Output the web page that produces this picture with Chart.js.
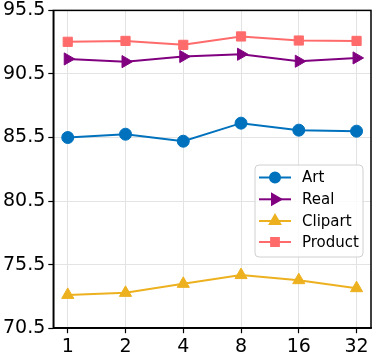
<!DOCTYPE html>
<html>
<head>
<meta charset="utf-8">
<script src="https://cdn.jsdelivr.net/npm/chart.js@4/dist/chart.umd.min.js"></script>
<style>
html,body{margin:0;padding:0;background:#fff;overflow:hidden;}
#wrap{width:374px;height:355px;position:relative;overflow:hidden;}
#c{position:absolute;left:0;top:-4px;}
</style>
</head>
<body>
<div id="wrap"><canvas id="c" width="379" height="359"></canvas></div>
<script>
const categories = ["1", "2", "4", "8", "16", "32"];
const artValues = [85.50, 85.76, 85.21, 86.63, 86.08, 86.00];
const realValues = [91.68, 91.47, 91.87, 92.05, 91.50, 91.76];
const clipartValues = [73.12, 73.28, 73.99, 74.68, 74.28, 73.65];
const productValues = [93.03, 93.10, 92.79, 93.45, 93.13, 93.10];
const yTicks = [70.5, 75.5, 80.5, 85.5, 90.5, 95.5];
const seriesNames = ["Art", "Real", "Clipart", "Product"];

const FONT = "'DejaVu Sans', sans-serif";
function pts(vals){ return vals.map((v,i)=>({x:i,y:v})); }

const styles = [
  {color:'#0072BD', style:'circle', rot:0, r:6, lr:5},
  {color:'#800080', style:'triangle', rot:90, r:7, lr:6},
  {color:'#EDB120', style:'triangle', rot:0, r:7, lr:6},
  {color:'#FF6B6B', style:'rect', rot:0, r:6.5, lr:5.5}
];
const allVals = [artValues, realValues, clipartValues, productValues];

const datasets = allVals.map((vals,k)=>({
  label: seriesNames[k],
  data: pts(vals),
  borderColor: styles[k].color,
  backgroundColor: styles[k].color,
  borderWidth: 2,
  pointStyle: styles[k].style,
  pointRotation: styles[k].rot,
  pointRadius: styles[k].r,
  pointBorderWidth: 1,
  pointHoverRadius: styles[k].r,
  tension: 0
}));

// page offset of canvas (top:-4px): legend coords given in page pixels
const OY = 4;
const frame = {
  id:'frame',
  afterDraw(chart){
    const {ctx, chartArea:a} = chart;
    ctx.save();
    ctx.strokeStyle = '#000';
    ctx.lineWidth = 1.5;
    ctx.strokeRect(a.left, a.top, a.right-a.left, a.bottom-a.top);
    // legend
    const lx = 255, ly = 165 + OY, lw = 108, lh = 92;
    ctx.fillStyle = 'rgba(255,255,255,0.85)';
    ctx.strokeStyle = '#d0d0d0';
    ctx.lineWidth = 1;
    const rr = 4;
    ctx.beginPath();
    ctx.moveTo(lx+rr, ly);
    ctx.lineTo(lx+lw-rr, ly); ctx.arcTo(lx+lw, ly, lx+lw, ly+rr, rr);
    ctx.lineTo(lx+lw, ly+lh-rr); ctx.arcTo(lx+lw, ly+lh, lx+lw-rr, ly+lh, rr);
    ctx.lineTo(lx+rr, ly+lh); ctx.arcTo(lx, ly+lh, lx, ly+lh-rr, rr);
    ctx.lineTo(lx, ly+rr); ctx.arcTo(lx, ly, lx+rr, ly, rr);
    ctx.closePath(); ctx.fill(); ctx.stroke();
    const rows = [177.5, 199.3, 221, 242];
    seriesNames.forEach((name,k)=>{
      const y = rows[k] + OY;
      const s = styles[k];
      ctx.strokeStyle = s.color; ctx.lineWidth = 2;
      ctx.beginPath(); ctx.moveTo(259, y); ctx.lineTo(291, y); ctx.stroke();
      ctx.fillStyle = s.color;
      Chart.helpers.drawPoint(ctx, {pointStyle:s.style, rotation:s.rot, radius:s.lr, borderWidth:1}, 275, y);
      ctx.fillStyle = '#000';
      ctx.font = '15px ' + FONT;
      ctx.textBaseline = 'middle';
      ctx.textAlign = 'left';
      ctx.fillText(name, 302, y+1);
    });
    ctx.restore();
  }
};

new Chart(document.getElementById('c'), {
  type:'line',
  data:{datasets},
  options:{
    responsive:false,
    animation:false,
    devicePixelRatio:1,
    layout:{padding:{left:0, right:-4, top:-3, bottom:-5}},
    plugins:{legend:{display:false}, tooltip:{enabled:false}},
    scales:{
      x:{
        type:'linear',
        min:-0.25, max:5.25,
        afterBuildTicks(axis){ axis.ticks = categories.map((c,i)=>({value:i})); },
        ticks:{
          callback:(v)=>categories[v],
          color:'#000',
          font:{family:FONT, size:19},
          padding:2,
          maxRotation:0,
          autoSkip:false
        },
        grid:{color:'#e3e3e3', lineWidth:1, tickColor:'#000', tickLength:5, tickWidth:1.2},
        border:{color:'#000', width:1.5}
      },
      y:{
        type:'linear',
        min:70.5, max:95.5,
        afterBuildTicks(axis){ axis.ticks = yTicks.map(v=>({value:v})); },
        ticks:{
          callback:(v)=>Number(v).toFixed(1),
          color:'#000',
          font:{family:FONT, size:19},
          padding:3
        },
        grid:{color:'#e3e3e3', lineWidth:1, tickColor:'#000', tickLength:5, tickWidth:1.2},
        border:{color:'#000', width:1.5}
      }
    }
  },
  plugins:[frame]
});
</script>
</body>
</html>
